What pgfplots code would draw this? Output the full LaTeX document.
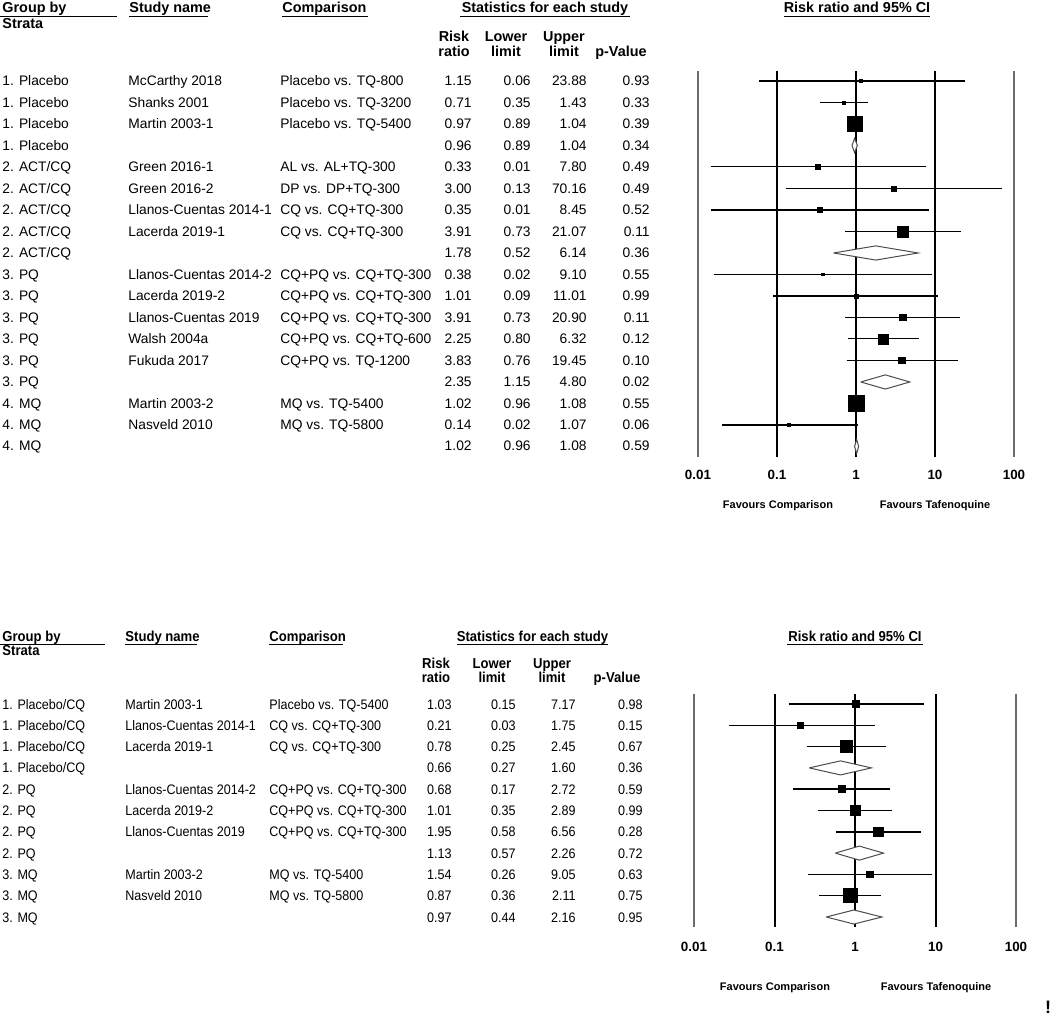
\documentclass[border=0pt]{standalone}
\usepackage{pgfplots}
\pgfplotsset{compat=1.18}
\usepackage{fontspec}
\setmainfont{Liberation Sans}
\newfontfamily\narrowfont[FakeStretch=0.91]{Liberation Sans}
\definecolor{lgray}{gray}{0.42}
\definecolor{dgray}{gray}{0.3}
\newcommand{\rf}{\fontsize{6.9}{8}\selectfont}
\newcommand{\hf}{\bfseries\fontsize{7.2}{8}\selectfont}
\newcommand{\nrf}{\narrowfont\fontsize{6.9}{8}\selectfont}
\newcommand{\nhf}{\narrowfont\bfseries\fontsize{7.2}{8}\selectfont}
\newcommand{\ff}{\bfseries\fontsize{5.5}{6}\selectfont}

\pgfplotsset{
  thk/.style={black, line width=0.85pt},
  thn/.style={black, line width=0.5pt},
  sq/.style={only marks, mark=square*, black, mark size=#1},
  dia/.style={draw=dgray, fill=white, line width=0.5pt, line join=miter},
  vfar/.style={lgray, line width=0.6pt},
  vmid/.style={black, line width=1pt},
  vone/.style={black, line width=0.7pt}
}

% top table rows
\newcommand{\trow}[8]{%
  \pgfmathsetmacro{\yy}{86+21.47*(#1-1)}%
  \node[anchor=base west,inner sep=0pt] at (2,\yy) {\rf #2};
  \node[anchor=base west,inner sep=0pt] at (128,\yy) {\rf #3};
  \node[anchor=base west,inner sep=0pt] at (280,\yy) {\rf #4};
  \node[anchor=base east,inner sep=0pt] at (472,\yy) {\rf #5};
  \node[anchor=base east,inner sep=0pt] at (531,\yy) {\rf #6};
  \node[anchor=base east,inner sep=0pt] at (587,\yy) {\rf #7};
  \node[anchor=base east,inner sep=0pt] at (650,\yy) {\rf #8};
}
% bottom table rows
\newcommand{\brow}[8]{%
  \pgfmathsetmacro{\yy}{709+21.3*(#1-1)}%
  \node[anchor=base west,inner sep=0pt] at (2,\yy) {\nrf #2};
  \node[anchor=base west,inner sep=0pt] at (125,\yy) {\nrf #3};
  \node[anchor=base west,inner sep=0pt] at (269,\yy) {\nrf #4};
  \node[anchor=base east,inner sep=0pt] at (452,\yy) {\nrf #5};
  \node[anchor=base east,inner sep=0pt] at (516,\yy) {\nrf #6};
  \node[anchor=base east,inner sep=0pt] at (576,\yy) {\nrf #7};
  \node[anchor=base east,inner sep=0pt] at (643,\yy) {\nrf #8};
}

\begin{document}
\begin{tikzpicture}[x=0.5pt,y=-0.5pt]
\path[use as bounding box] (0,0) rectangle (1050,1016);

%================ TOP FOREST PLOT ================
\begin{axis}[at={(349pt,-35.5pt)}, anchor=north west,
  scale only axis, width=158pt, height=193pt,
  xmode=log, xmin=0.01, xmax=100, ymin=-18.49, ymax=-0.535, clip=false,
  axis x line*=bottom, axis y line=none, x axis line style={draw=none},
  xtick={0.01,0.1,1,10,100}, xticklabels={0.01,0.1,1,10,100},
  xminorticks=false, major tick length=0pt, minor tick length=0pt,
  xticklabel style={font=\bfseries\fontsize{6.7}{7}\selectfont, anchor=center, yshift=-9pt}]
% reference lines
\addplot[vfar] coordinates {(0.01,-18.49) (0.01,-0.535)};
\addplot[vmid] coordinates {(0.1,-18.49) (0.1,-0.535)};
\addplot[vone] coordinates {(1,-18.49) (1,-0.535)};
\addplot[vmid] coordinates {(10,-18.49) (10,-0.535)};
\addplot[vfar] coordinates {(100,-18.49) (100,-0.535)};
% 1 McCarthy 2018
\addplot[thk] coordinates {(0.06,-1) (23.88,-1)};
\addplot[sq=0.75pt] coordinates {(1.15,-1)};
% 2 Shanks 2001
\addplot[thk] coordinates {(0.35,-2) (1.43,-2)};
\addplot[sq=0.75pt] coordinates {(0.71,-2)};
% 3 Martin 2003-1
\addplot[thk] coordinates {(0.89,-3) (1.04,-3)};
\addplot[sq=3.75pt] coordinates {(0.97,-3)};
% 4 Placebo summary
\addplot[dia] coordinates {(0.89,-4) (0.96,-3.67) (1.04,-4) (0.96,-4.33) (0.89,-4)};
% 5 Green 2016-1
\addplot[thn] coordinates {(0.0145,-5) (7.80,-5)};
\addplot[sq=1.25pt] coordinates {(0.33,-5)};
% 6 Green 2016-2
\addplot[thk] coordinates {(0.13,-6) (70.16,-6)};
\addplot[sq=1.25pt] coordinates {(3.00,-6)};
% 7 Llanos-Cuentas 2014-1
\addplot[thk] coordinates {(0.0145,-7) (8.45,-7)};
\addplot[sq=1.4pt] coordinates {(0.35,-7)};
% 8 Lacerda 2019-1
\addplot[thk] coordinates {(0.73,-8) (21.07,-8)};
\addplot[sq=2.75pt] coordinates {(3.91,-8)};
% 9 ACT/CQ summary
\addplot[dia] coordinates {(0.52,-9) (1.78,-8.67) (6.14,-9) (1.78,-9.33) (0.52,-9)};
% 10 Llanos-Cuentas 2014-2
\addplot[thn] coordinates {(0.016,-10) (9.10,-10)};
\addplot[sq=0.7pt] coordinates {(0.38,-10)};
% 11 Lacerda 2019-2
\addplot[thk] coordinates {(0.09,-11) (11.01,-11)};
\addplot[sq=1.0pt] coordinates {(1.01,-11)};
% 12 Llanos-Cuentas 2019
\addplot[thk] coordinates {(0.73,-12) (20.90,-12)};
\addplot[sq=1.6pt] coordinates {(3.91,-12)};
% 13 Walsh 2004a
\addplot[thn] coordinates {(0.80,-13) (6.32,-13)};
\addplot[sq=2.5pt] coordinates {(2.25,-13)};
% 14 Fukuda 2017
\addplot[thn] coordinates {(0.76,-14) (19.45,-14)};
\addplot[sq=1.6pt] coordinates {(3.83,-14)};
% 15 PQ summary
\addplot[dia] coordinates {(1.15,-15) (2.35,-14.67) (4.80,-15) (2.35,-15.33) (1.15,-15)};
% 16 Martin 2003-2
\addplot[thk] coordinates {(0.96,-16) (1.08,-16)};
\addplot[sq=3.9pt] coordinates {(1.02,-16)};
% 17 Nasveld 2010
\addplot[thk] coordinates {(0.02,-17) (1.07,-17)};
\addplot[sq=0.75pt] coordinates {(0.14,-17)};
% 18 MQ summary
\addplot[dia] coordinates {(0.96,-18) (1.02,-17.67) (1.08,-18) (1.02,-18.33) (0.96,-18)};
\end{axis}

%================ BOTTOM FOREST PLOT ================
\begin{axis}[at={(347pt,-347pt)}, anchor=north west,
  scale only axis, width=161pt, height=116.5pt,
  xmode=log, xmin=0.01, xmax=100, ymin=-11.469, ymax=-0.5305, clip=false,
  axis x line*=bottom, axis y line=none, x axis line style={draw=none},
  xtick={0.01,0.1,1,10,100}, xticklabels={0.01,0.1,1,10,100},
  xminorticks=false, major tick length=0pt, minor tick length=0pt,
  xticklabel style={font=\bfseries\fontsize{6.7}{7}\selectfont, anchor=center, yshift=-10pt}]
\addplot[vfar] coordinates {(0.01,-11.469) (0.01,-0.5305)};
\addplot[vmid] coordinates {(0.1,-11.469) (0.1,-0.5305)};
\addplot[vone] coordinates {(1,-11.469) (1,-0.5305)};
\addplot[vmid] coordinates {(10,-11.469) (10,-0.5305)};
\addplot[vfar] coordinates {(100,-11.469) (100,-0.5305)};
% 1 Martin 2003-1
\addplot[thk] coordinates {(0.15,-1) (7.17,-1)};
\addplot[sq=1.8pt] coordinates {(1.03,-1)};
% 2 Llanos-Cuentas 2014-1
\addplot[thn] coordinates {(0.027,-2) (1.75,-2)};
\addplot[sq=1.6pt] coordinates {(0.21,-2)};
% 3 Lacerda 2019-1
\addplot[thk] coordinates {(0.25,-3) (2.45,-3)};
\addplot[sq=3.0pt] coordinates {(0.78,-3)};
% 4 Placebo/CQ summary
\addplot[dia] coordinates {(0.27,-4) (0.66,-3.67) (1.60,-4) (0.66,-4.33) (0.27,-4)};
% 5 Llanos-Cuentas 2014-2
\addplot[thk] coordinates {(0.17,-5) (2.72,-5)};
\addplot[sq=1.8pt] coordinates {(0.68,-5)};
% 6 Lacerda 2019-2
\addplot[thn] coordinates {(0.35,-6) (2.89,-6)};
\addplot[sq=2.5pt] coordinates {(1.01,-6)};
% 7 Llanos-Cuentas 2019
\addplot[thk] coordinates {(0.58,-7) (6.56,-7)};
\addplot[sq=2.3pt] coordinates {(1.95,-7)};
% 8 PQ summary
\addplot[dia] coordinates {(0.57,-8) (1.13,-7.67) (2.26,-8) (1.13,-8.33) (0.57,-8)};
% 9 Martin 2003-2
\addplot[thk] coordinates {(0.26,-9) (9.05,-9)};
\addplot[sq=1.7pt] coordinates {(1.54,-9)};
% 10 Nasveld 2010
\addplot[thn] coordinates {(0.36,-10) (2.11,-10)};
\addplot[sq=3.5pt] coordinates {(0.87,-10)};
% 11 MQ summary
\addplot[dia] coordinates {(0.44,-11) (0.97,-10.67) (2.16,-11) (0.97,-11.33) (0.44,-11)};
\end{axis}

%================ TOP TABLE ================
\node[anchor=base west,inner sep=0pt] at (2,13) {\hf Group by};
\draw[line width=0.5pt] (0,16.5) -- (117,16.5);
\node[anchor=base west,inner sep=0pt] at (2,29) {\hf Strata};
\node[anchor=base west,inner sep=0pt] at (129,13) {\hf Study name};
\draw[line width=0.5pt] (129,16.5) -- (208,16.5);
\node[anchor=base west,inner sep=0pt] at (282,13) {\hf Comparison};
\draw[line width=0.5pt] (282,16.5) -- (368,16.5);
\node[anchor=base,inner sep=0pt] at (545,13) {\hf Statistics for each study};
\draw[line width=0.5pt] (460,16.5) -- (630,16.5);
\node[anchor=base,inner sep=0pt] at (857,13) {\hf Risk ratio and 95\% CI};
\draw[line width=0.5pt] (784,16.5) -- (930,16.5);
\node[anchor=base,inner sep=0pt] at (454,42) {\hf Risk};
\node[anchor=base,inner sep=0pt] at (454,57) {\hf ratio};
\node[anchor=base,inner sep=0pt] at (506,42) {\hf Lower};
\node[anchor=base,inner sep=0pt] at (506,57) {\hf limit};
\node[anchor=base,inner sep=0pt] at (564,42) {\hf Upper};
\node[anchor=base,inner sep=0pt] at (564,57) {\hf limit};
\node[anchor=base,inner sep=0pt] at (621,57) {\hf p-Value};

\trow{1}{1. Placebo}{McCarthy 2018}{Placebo vs. TQ-800}{1.15}{0.06}{23.88}{0.93}
\trow{2}{1. Placebo}{Shanks 2001}{Placebo vs. TQ-3200}{0.71}{0.35}{1.43}{0.33}
\trow{3}{1. Placebo}{Martin 2003-1}{Placebo vs. TQ-5400}{0.97}{0.89}{1.04}{0.39}
\trow{4}{1. Placebo}{}{}{0.96}{0.89}{1.04}{0.34}
\trow{5}{2. ACT/CQ}{Green 2016-1}{AL vs. AL+TQ-300}{0.33}{0.01}{7.80}{0.49}
\trow{6}{2. ACT/CQ}{Green 2016-2}{DP vs. DP+TQ-300}{3.00}{0.13}{70.16}{0.49}
\trow{7}{2. ACT/CQ}{Llanos-Cuentas 2014-1}{CQ vs. CQ+TQ-300}{0.35}{0.01}{8.45}{0.52}
\trow{8}{2. ACT/CQ}{Lacerda 2019-1}{CQ vs. CQ+TQ-300}{3.91}{0.73}{21.07}{0.11}
\trow{9}{2. ACT/CQ}{}{}{1.78}{0.52}{6.14}{0.36}
\trow{10}{3. PQ}{Llanos-Cuentas 2014-2}{CQ+PQ vs. CQ+TQ-300}{0.38}{0.02}{9.10}{0.55}
\trow{11}{3. PQ}{Lacerda 2019-2}{CQ+PQ vs. CQ+TQ-300}{1.01}{0.09}{11.01}{0.99}
\trow{12}{3. PQ}{Llanos-Cuentas 2019}{CQ+PQ vs. CQ+TQ-300}{3.91}{0.73}{20.90}{0.11}
\trow{13}{3. PQ}{Walsh 2004a}{CQ+PQ vs. CQ+TQ-600}{2.25}{0.80}{6.32}{0.12}
\trow{14}{3. PQ}{Fukuda 2017}{CQ+PQ vs. TQ-1200}{3.83}{0.76}{19.45}{0.10}
\trow{15}{3. PQ}{}{}{2.35}{1.15}{4.80}{0.02}
\trow{16}{4. MQ}{Martin 2003-2}{MQ vs. TQ-5400}{1.02}{0.96}{1.08}{0.55}
\trow{17}{4. MQ}{Nasveld 2010}{MQ vs. TQ-5800}{0.14}{0.02}{1.07}{0.06}
\trow{18}{4. MQ}{}{}{1.02}{0.96}{1.08}{0.59}

\node[anchor=base,inner sep=0pt] at (778,508) {\ff Favours Comparison};
\node[anchor=base,inner sep=0pt] at (935,508) {\ff Favours Tafenoquine};

%================ BOTTOM TABLE ================
\node[anchor=base west,inner sep=0pt] at (2,641.5) {\nhf Group by};
\draw[line width=0.5pt] (0,644.5) -- (105,644.5);
\node[anchor=base west,inner sep=0pt] at (2,655) {\nhf Strata};
\node[anchor=base west,inner sep=0pt] at (125,641.5) {\nhf Study name};
\draw[line width=0.5pt] (125,644.5) -- (197,644.5);
\node[anchor=base west,inner sep=0pt] at (269,641.5) {\nhf Comparison};
\draw[line width=0.5pt] (269,644.5) -- (343,644.5);
\node[anchor=base,inner sep=0pt] at (532.5,641.5) {\nhf Statistics for each study};
\draw[line width=0.5pt] (457,644.5) -- (608,644.5);
\node[anchor=base,inner sep=0pt] at (855,641.5) {\nhf Risk ratio and 95\% CI};
\draw[line width=0.5pt] (787,644.5) -- (923,644.5);
\node[anchor=base,inner sep=0pt] at (436,668) {\nhf Risk};
\node[anchor=base,inner sep=0pt] at (436,682) {\nhf ratio};
\node[anchor=base,inner sep=0pt] at (492,668) {\nhf Lower};
\node[anchor=base,inner sep=0pt] at (492,682) {\nhf limit};
\node[anchor=base,inner sep=0pt] at (552,668) {\nhf Upper};
\node[anchor=base,inner sep=0pt] at (552,682) {\nhf limit};
\node[anchor=base,inner sep=0pt] at (617,682) {\nhf p-Value};

\brow{1}{1. Placebo/CQ}{Martin 2003-1}{Placebo vs. TQ-5400}{1.03}{0.15}{7.17}{0.98}
\brow{2}{1. Placebo/CQ}{Llanos-Cuentas 2014-1}{CQ vs. CQ+TQ-300}{0.21}{0.03}{1.75}{0.15}
\brow{3}{1. Placebo/CQ}{Lacerda 2019-1}{CQ vs. CQ+TQ-300}{0.78}{0.25}{2.45}{0.67}
\brow{4}{1. Placebo/CQ}{}{}{0.66}{0.27}{1.60}{0.36}
\brow{5}{2. PQ}{Llanos-Cuentas 2014-2}{CQ+PQ vs. CQ+TQ-300}{0.68}{0.17}{2.72}{0.59}
\brow{6}{2. PQ}{Lacerda 2019-2}{CQ+PQ vs. CQ+TQ-300}{1.01}{0.35}{2.89}{0.99}
\brow{7}{2. PQ}{Llanos-Cuentas 2019}{CQ+PQ vs. CQ+TQ-300}{1.95}{0.58}{6.56}{0.28}
\brow{8}{2. PQ}{}{}{1.13}{0.57}{2.26}{0.72}
\brow{9}{3. MQ}{Martin 2003-2}{MQ vs. TQ-5400}{1.54}{0.26}{9.05}{0.63}
\brow{10}{3. MQ}{Nasveld 2010}{MQ vs. TQ-5800}{0.87}{0.36}{2.11}{0.75}
\brow{11}{3. MQ}{}{}{0.97}{0.44}{2.16}{0.95}

\node[anchor=base,inner sep=0pt] at (775,990) {\ff Favours Comparison};
\node[anchor=base,inner sep=0pt] at (936,990) {\ff Favours Tafenoquine};

\node[anchor=base,inner sep=0pt] at (1048,1013) {\bfseries\fontsize{9}{10}\selectfont !};
\end{tikzpicture}
\end{document}
